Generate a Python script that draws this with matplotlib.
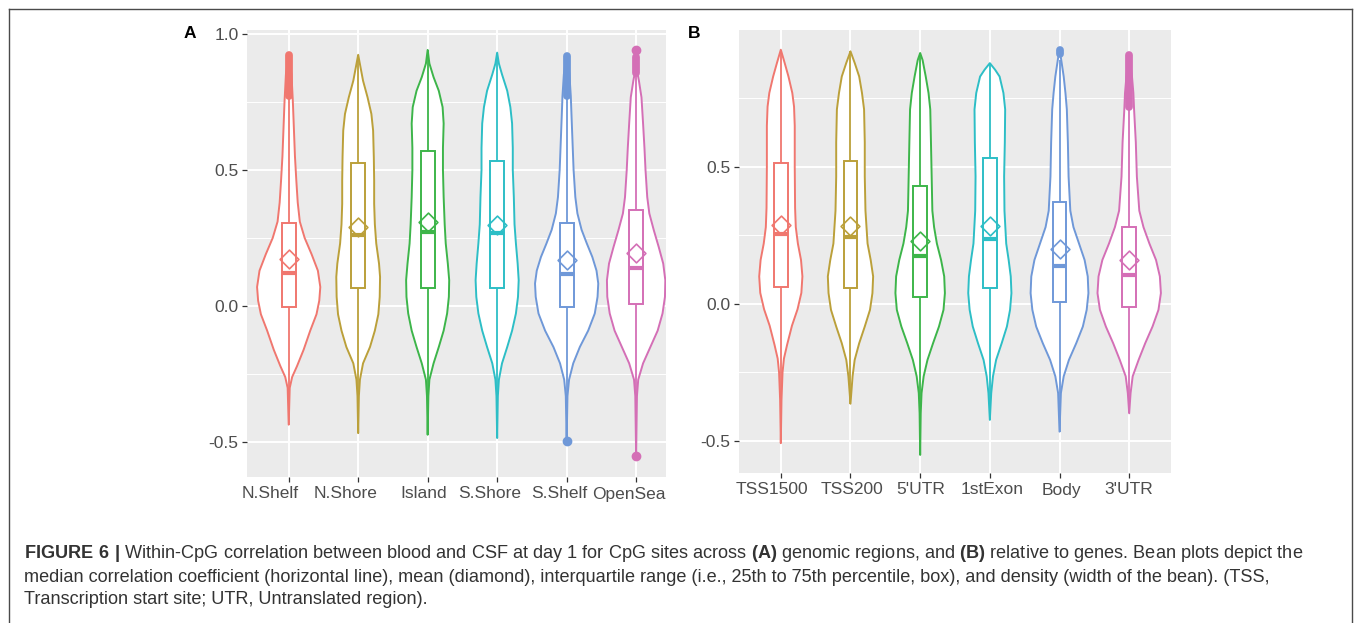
import matplotlib
matplotlib.use("Agg")
import matplotlib.pyplot as plt
from matplotlib.path import Path
from matplotlib.patches import Rectangle
from matplotlib.lines import Line2D
from matplotlib.transforms import ScaledTranslation
import numpy as np

plt.rcParams['font.family'] = ['Liberation Sans', 'DejaVu Sans']
plt.rcParams['mathtext.fontset'] = 'custom'
plt.rcParams['mathtext.rm'] = 'Liberation Sans'
plt.rcParams['mathtext.bf'] = 'Liberation Sans:bold'

# ---------------- data ----------------
colors = ['#F0776F', '#BBA03A', '#3DB54A', '#2DBEC6', '#6F98D8', '#D46FB6']

cats_A = ["N.Shelf", "N.Shore", "Island", "S.Shore", "S.Shelf", "OpenSea"]
cats_B = ["TSS1500", "TSS200", "5'UTR", "1stExon", "Body", "3'UTR"]

yticks_A = [-0.5, 0.0, 0.5, 1.0]
ytick_labels_A = ["-0.5", "0.0", "0.5", "1.0"]
yminor_A = [-0.25, 0.25, 0.75]
yticks_B = [-0.5, 0.0, 0.5]
ytick_labels_B = ["-0.5", "0.0", "0.5"]
yminor_B = [-0.25, 0.25, 0.75]

# violin profiles: y levels and half-widths (category units)
viol_y_A = [
    [-0.435, -0.30, -0.26, -0.22, -0.16, -0.09, -0.03, 0.02, 0.07, 0.13, 0.19, 0.25, 0.31, 0.38, 0.46, 0.55, 0.65, 0.75, 0.85, 0.92],
    [-0.466, -0.33, -0.27, -0.21, -0.15, -0.09, -0.03, 0.034, 0.107, 0.156, 0.23, 0.30, 0.375, 0.46, 0.546, 0.644, 0.705, 0.766, 0.827, 0.888, 0.922],
    [-0.472, -0.33, -0.27, -0.21, -0.15, -0.09, -0.027, 0.034, 0.095, 0.156, 0.23, 0.30, 0.40, 0.50, 0.58, 0.67, 0.73, 0.79, 0.84, 0.89, 0.94],
    [-0.484, -0.33, -0.27, -0.21, -0.15, -0.09, -0.027, 0.034, 0.095, 0.156, 0.23, 0.30, 0.40, 0.50, 0.58, 0.67, 0.73, 0.79, 0.85, 0.89, 0.93],
    [-0.496, -0.33, -0.27, -0.21, -0.15, -0.09, -0.027, 0.034, 0.083, 0.13, 0.18, 0.23, 0.28, 0.34, 0.40, 0.50, 0.60, 0.70, 0.77, 0.85, 0.92],
    [-0.549, -0.33, -0.27, -0.21, -0.15, -0.09, -0.027, 0.034, 0.095, 0.156, 0.217, 0.278, 0.34, 0.40, 0.50, 0.58, 0.67, 0.766, 0.827, 0.86, 0.943],
]
viol_w_A = [
    [0, 0.015, 0.05, 0.12, 0.215, 0.31, 0.40, 0.44, 0.455, 0.42, 0.33, 0.23, 0.16, 0.13, 0.11, 0.09, 0.075, 0.06, 0.04, 0],
    [0, 0.01, 0.025, 0.07, 0.17, 0.24, 0.29, 0.31, 0.315, 0.30, 0.26, 0.24, 0.23, 0.23, 0.225, 0.215, 0.19, 0.135, 0.07, 0.025, 0],
    [0, 0.01, 0.025, 0.085, 0.16, 0.23, 0.28, 0.305, 0.31, 0.29, 0.26, 0.245, 0.23, 0.22, 0.22, 0.23, 0.215, 0.16, 0.085, 0.025, 0],
    [0, 0.01, 0.025, 0.07, 0.145, 0.215, 0.27, 0.30, 0.31, 0.295, 0.27, 0.25, 0.24, 0.225, 0.225, 0.215, 0.19, 0.145, 0.07, 0.025, 0],
    [0, 0.012, 0.035, 0.095, 0.19, 0.31, 0.405, 0.445, 0.455, 0.43, 0.37, 0.29, 0.215, 0.155, 0.125, 0.10, 0.085, 0.07, 0.06, 0.04, 0],
    [0, 0.012, 0.03, 0.10, 0.205, 0.31, 0.38, 0.415, 0.42, 0.39, 0.325, 0.255, 0.19, 0.16, 0.135, 0.12, 0.10, 0.077, 0.04, 0.015, 0],
]
q1_A = [-0.002, 0.065, 0.065, 0.067, -0.005, 0.006]
med_A = [0.12, 0.26, 0.272, 0.27, 0.116, 0.138]
q3_A = [0.306, 0.526, 0.568, 0.534, 0.305, 0.354]
mean_A = [0.172, 0.29, 0.31, 0.296, 0.168, 0.195]
wlo_A = [-0.435, -0.466, -0.472, -0.484, -0.465, -0.51]
whi_A = [0.766, 0.922, 0.94, 0.93, 0.77, 0.85]
out_runs_A = [[(0.77, 0.922)], [], [], [], [(0.772, 0.918)], [(0.855, 0.915)]]
out_dots_A = [[], [], [], [], [-0.496], [-0.549, 0.94]]

viol_y_B = [
    [-0.509, -0.35, -0.25, -0.2, -0.15, -0.08, -0.02, 0.04, 0.10, 0.16, 0.22, 0.28, 0.35, 0.50, 0.65, 0.72, 0.77, 0.83, 0.88, 0.928],
    [-0.365, -0.265, -0.205, -0.144, -0.083, -0.022, 0.039, 0.10, 0.16, 0.22, 0.34, 0.465, 0.59, 0.71, 0.77, 0.83, 0.88, 0.922],
    [-0.552, -0.40, -0.326, -0.265, -0.205, -0.144, -0.083, -0.022, 0.039, 0.10, 0.16, 0.22, 0.28, 0.34, 0.465, 0.59, 0.71, 0.77, 0.83, 0.89, 0.916],
    [-0.424, -0.326, -0.265, -0.205, -0.144, -0.083, -0.022, 0.039, 0.10, 0.16, 0.22, 0.34, 0.465, 0.59, 0.71, 0.77, 0.83, 0.855, 0.879],
    [-0.467, -0.326, -0.265, -0.205, -0.144, -0.083, -0.022, 0.039, 0.10, 0.16, 0.22, 0.28, 0.34, 0.465, 0.59, 0.71, 0.77, 0.83, 0.89, 0.928],
    [-0.40, -0.326, -0.265, -0.205, -0.144, -0.083, -0.022, 0.039, 0.10, 0.16, 0.22, 0.28, 0.34, 0.465, 0.59, 0.71, 0.77, 0.83, 0.91],
]
viol_w_B = [
    [0, 0.01, 0.025, 0.045, 0.09, 0.16, 0.24, 0.295, 0.31, 0.29, 0.245, 0.215, 0.205, 0.2, 0.2, 0.19, 0.165, 0.11, 0.055, 0],
    [0, 0.03, 0.06, 0.125, 0.205, 0.28, 0.315, 0.325, 0.29, 0.245, 0.215, 0.205, 0.205, 0.195, 0.165, 0.125, 0.06, 0],
    [0, 0.008, 0.02, 0.05, 0.105, 0.185, 0.27, 0.335, 0.355, 0.345, 0.30, 0.24, 0.20, 0.175, 0.165, 0.155, 0.145, 0.12, 0.08, 0.035, 0],
    [0, 0.02, 0.045, 0.09, 0.17, 0.245, 0.29, 0.31, 0.30, 0.27, 0.235, 0.21, 0.205, 0.215, 0.22, 0.195, 0.14, 0.075, 0],
    [0, 0.02, 0.06, 0.135, 0.24, 0.335, 0.39, 0.415, 0.405, 0.36, 0.28, 0.20, 0.155, 0.13, 0.12, 0.105, 0.085, 0.06, 0.025, 0],
    [0, 0.02, 0.05, 0.135, 0.23, 0.335, 0.42, 0.455, 0.44, 0.385, 0.29, 0.205, 0.145, 0.11, 0.095, 0.07, 0.06, 0.04, 0],
]
q1_B = [0.063, 0.057, 0.023, 0.057, 0.006, -0.012]
med_B = [0.256, 0.244, 0.175, 0.236, 0.139, 0.106]
q3_B = [0.516, 0.52, 0.429, 0.532, 0.37, 0.279]
mean_B = [0.286, 0.283, 0.231, 0.285, 0.2, 0.161]
wlo_B = [-0.509, -0.365, -0.552, -0.424, -0.467, -0.40]
whi_B = [0.928, 0.922, 0.916, 0.879, 0.89, 0.72]
out_runs_B = [[], [], [], [], [(0.912, 0.928)], [(0.72, 0.91)]]
out_dots_B = [[], [], [], [], [], []]

caption_lines = [
    r"$\mathbf{FIGURE\ 6\ |}$ Within-CpG correlation between blood and CSF at day 1 for CpG sites across "
    r"$\mathbf{(A)}$ genomic regions, and $\mathbf{(B)}$ relative to genes. Bean plots depict the",
    "median correlation coefficient (horizontal line), mean (diamond), interquartile range (i.e., 25th to 75th "
    "percentile, box), and density (width of the bean). (TSS,",
    "Transcription start site; UTR, Untranslated region).",
]

# ---------------- figure ----------------
W, H = 1357, 623
fig = plt.figure(figsize=(W / 100, H / 100), dpi=100)
fig.patch.set_facecolor('white')


def px_axes(l, t, r, b):
    return fig.add_axes([l / W, 1 - b / H, (r - l) / W, (b - t) / H])


diamond = Path([(0, -1), (1, 0), (0, 1), (-1, 0), (0, -1)],
               [Path.MOVETO, Path.LINETO, Path.LINETO, Path.LINETO, Path.CLOSEPOLY])


def draw_panel(ax, cats, vy, vw, q1, med, q3, mean, wlo, whi, runs, dots,
               ylim, xlim, yticks, ylabels, yminor, label_dx):
    ax.set_facecolor('#EBEBEB')
    for s in ax.spines.values():
        s.set_visible(False)
    ax.set_xlim(*xlim)
    ax.set_ylim(*ylim)
    for yv in yminor:
        ax.axhline(yv, color='white', lw=0.7, zorder=0)
    for yv in yticks:
        ax.axhline(yv, color='white', lw=1.4, zorder=0)
    xs = np.arange(1, len(cats) + 1)
    for xv in xs:
        ax.axvline(xv, color='white', lw=1.4, zorder=0)
    bw = 0.1
    for i, x in enumerate(xs):
        c = colors[i]
        y = np.array(vy[i])
        w = np.array(vw[i])
        px = np.concatenate([x - w, (x + w)[::-1]])
        py = np.concatenate([y, y[::-1]])
        ax.fill(px, py, facecolor='white', edgecolor=c, lw=1.4, zorder=2, joinstyle='round')
        ax.plot([x, x], [wlo[i], q1[i]], color=c, lw=1.3, zorder=3, solid_capstyle='butt')
        ax.plot([x, x], [q3[i], whi[i]], color=c, lw=1.3, zorder=3, solid_capstyle='butt')
        for lo, hi in runs[i]:
            ax.plot([x, x], [lo, hi], color=c, lw=5.6, solid_capstyle='round', zorder=3)
        for d in dots[i]:
            ax.plot([x], [d], 'o', color=c, ms=6, mec=c, zorder=3)
        ax.add_patch(Rectangle((x - bw, q1[i]), 2 * bw, q3[i] - q1[i], facecolor='white',
                               edgecolor=c, lw=1.4, zorder=4))
        ax.plot([x - bw, x + bw], [med[i], med[i]], color=c, lw=3.0, zorder=5, solid_capstyle='butt')
        ax.plot([x], [mean[i]], marker=diamond, ms=13.5, mfc='none', mec=c, mew=1.2, zorder=6)
    ax.set_xticks(xs)
    ax.set_yticks(yticks)
    ax.set_yticklabels(ylabels)
    ax.tick_params(axis='both', length=3.4, width=0.9, color='#333333',
                   labelcolor='#4D4D4D', labelsize=12.5)
    ax.tick_params(axis='x', labelbottom=False)
    ax.tick_params(axis='y', pad=2.8)
    # category labels (placed under each tick)
    for x, cat, dx in zip(xs, cats, label_dx):
        tr = ax.get_xaxis_transform() + ScaledTranslation(dx / 100, -9.5 / 100, fig.dpi_scale_trans)
        ax.text(x, 0, cat, transform=tr, ha='center', va='top', fontsize=12.5, color='#4D4D4D')


axA = px_axes(247, 30, 666, 477)
draw_panel(axA, cats_A, viol_y_A, viol_w_A, q1_A, med_A, q3_A, mean_A, wlo_A, whi_A,
           out_runs_A, out_dots_A, (-0.627, 1.013), (0.4, 6.43), yticks_A, ytick_labels_A, yminor_A,
           [-19, -13, -4, -7, -7, -7])

axB = px_axes(739, 30, 1171, 473)
draw_panel(axB, cats_B, viol_y_B, viol_w_B, q1_B, med_B, q3_B, mean_B, wlo_B, whi_B,
           out_runs_B, out_dots_B, (-0.618, 1.0), (0.4, 6.6), yticks_B, ytick_labels_B, yminor_B,
           [-9, 2, 1, 2, 2, 0])

# panel letters
fig.text(189.5 / W, 1 - 33 / H, 'A', ha='center', va='center', fontweight='bold',
         fontsize=12.5, color='black')
fig.text(694 / W, 1 - 33 / H, 'B', ha='center', va='center', fontweight='bold',
         fontsize=12.5, color='black')

# outer frame (open at the bottom)
fc = '#4a4a4a'
fig.add_artist(Line2D([8.5 / W, 8.5 / W], [0, 1 - 8.5 / H], transform=fig.transFigure, color=fc, lw=1.0))
fig.add_artist(Line2D([8.5 / W, 1351.5 / W], [1 - 8.5 / H, 1 - 8.5 / H], transform=fig.transFigure, color=fc, lw=1.0))
fig.add_artist(Line2D([1351.5 / W, 1351.5 / W], [0, 1 - 8.5 / H], transform=fig.transFigure, color=fc, lw=1.0))

# caption
renderer = fig.canvas.get_renderer()
baselines = [558.5, 581.5, 604.5]
texts = []
for line, b in zip(caption_lines, baselines):
    t = fig.text(24 / W, 1 - b / H, line, fontsize=10, color='#333333', va='baseline', ha='left')
    texts.append(t)
w0 = texts[0].get_window_extent(renderer).width
fs = 10 * 1279 / w0
for t in texts:
    t.set_fontsize(fs)

fig.savefig('out.png', dpi=100, facecolor='white')
